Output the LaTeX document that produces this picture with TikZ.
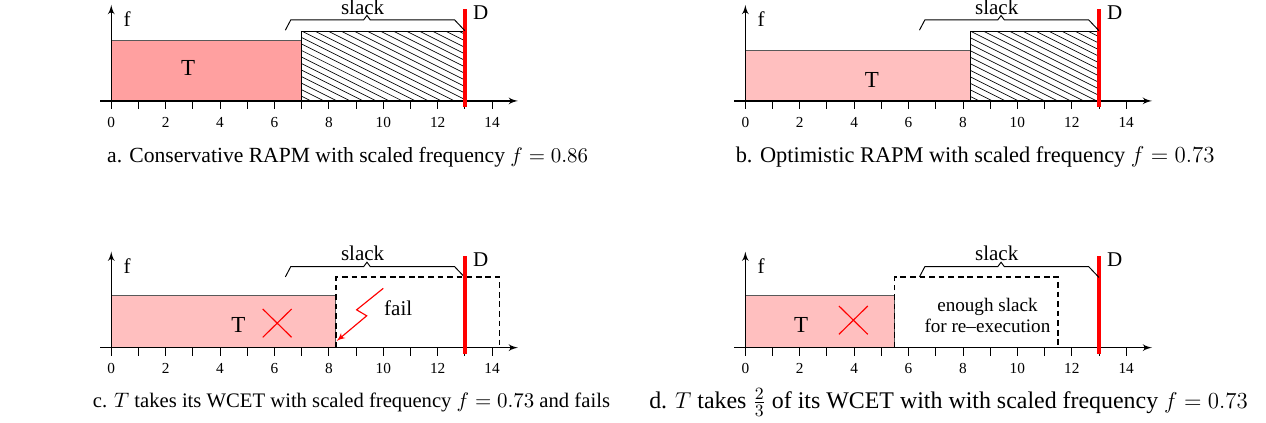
\documentclass[tikz,border=0pt]{standalone}
\usepackage{fontspec}
\setmainfont{Liberation Serif}
\usepackage{tikz}
\usetikzlibrary{arrows}
\usetikzlibrary{positioning}
\usetikzlibrary{shapes.misc}

\definecolor{taskdark}{RGB}{255,160,160}
\definecolor{tasklight}{RGB}{255,191,191}

\begin{document}
\begin{tikzpicture}[
		x=0.5cm,
		y=0.5cm,
		>=latex',
		axis/.style={->, line width=0.7pt},
		tick/.style={line width=0.5pt},
		main node/.style={font=\fontsize{12}{14}\selectfont},
		label node/.style={font=\fontsize{11}{13}\selectfont},
		tick node/.style={font=\fontsize{8}{9}\selectfont},
		note node/.style={font=\fontsize{10}{11}\selectfont, align=center},
		caption/.style={font=\fontsize{#1}{#1}\selectfont},
		task box/.style={draw=black!65, line width=0.5pt},
		hatch/.style={line width=0.35pt},
		slack box/.style={draw=black, dash pattern=on 3pt off 2pt, line width=0.8pt},
		deadline/.style={red, line width=2pt},
		brace/.style={line width=0.5pt},
		fail mark/.style={red, line width=0.6pt},
		cross/.style={cross out, draw=red, line width=0.6pt, inner sep=0pt, minimum width=0.51cm, minimum height=0.5cm}
		]
		
		\useasboundingbox (0,0) rectangle (46.54,-15.55);
		
		% a. conservative
		\begin{scope}[shift={(4.09,-3.71)}]
			\fill[taskdark] (0,0) rectangle (7,2.21);
			\draw[task box] (0,0) rectangle (7,2.21);
			\begin{scope}
				\clip (7,0) rectangle (13,2.57);
				\foreach \k in {-11,...,13}
				\draw[hatch] (7+\k*0.48,2.57) -- ++(5.14,-2.57);
			\end{scope}
			\draw[task box, draw=black] (7,0) rectangle (13,2.57);
			\node[main node] (aT) at (2.83,1.2) {T};
		\end{scope}
		
		% b. optimistic
		\begin{scope}[shift={(27.40,-3.71)}]
			\fill[tasklight] (0,0) rectangle (8.26,1.87);
			\draw[task box] (0,0) rectangle (8.26,1.87);
			\begin{scope}
				\clip (8.26,0) rectangle (13,2.57);
				\foreach \k in {-11,...,10}
				\draw[hatch] (8.26+\k*0.48,2.57) -- ++(5.14,-2.57);
			\end{scope}
			\draw[task box, draw=black] (8.26,0) rectangle (13,2.57);
			\node[main node] (bT) at (4.65,0.77) {T};
		\end{scope}
		
		% c. WCET and fails
		\begin{scope}[shift={(4.09,-12.78)}]
			\fill[tasklight] (0,0) rectangle (8.26,1.9);
			\draw[task box] (0,0) rectangle (8.26,1.9);
			\node[main node] (cT) at (4.67,0.83) {T};
			\node[cross] (cX) at (6.1,0.9) {};
			\node[label node] (cfail) at (10.55,1.46) {fail};
			\coordinate (cz1) at (10.0,2.18);
			\coordinate (cz2) at (9.02,1.39);
			\coordinate (cz3) at (9.39,1.17);
			\coordinate (cz4) at (8.28,0.24);
		\end{scope}
		
		% d. 2/3 of WCET
		\begin{scope}[shift={(27.40,-12.78)}]
			\fill[tasklight] (0,0) rectangle (5.48,1.9);
			\draw[task box] (0,0) rectangle (5.48,1.9);
			\node[main node] (dT) at (2.05,0.83) {T};
			\node[cross] (dX) at (3.97,1.01) {};
			\node[note node] (dnote) at (8.9,1.18) {enough slack\\for re\textendash execution};
		\end{scope}
		
		% axes, deadline and slack for every panel
		\foreach \p/\ox/\oy in {a/4.09/-3.71, b/27.40/-3.71, c/4.09/-12.78, d/27.40/-12.78}
		{
			\begin{scope}[shift={(\ox,\oy)}]
				\coordinate (\p o) at (0,0);
				\coordinate (\p xs) at (-0.4,0);
				\coordinate (\p xe) at (14.95,0);
				\coordinate (\p ye) at (0,3.53);
				\draw[axis] (\p xs) -- (\p xe);
				\draw[axis] (\p o) -- (\p ye);
				\foreach \t in {0,...,14}
				\draw[tick] (\t,0) -- (\t,-0.3);
				\foreach \t in {0,2,...,14}
				\node[tick node] (\p t\t) at (\t,-0.78) {\t};
				\node[label node] (\p f) at (0.58,3.0) {f};
				\coordinate (\p d1) at (13,-0.22);
				\coordinate (\p d2) at (13,3.38);
				\draw[deadline] (\p d1) -- (\p d2);
				\node[label node] (\p D) at (13.58,3.25) {D};
				\draw[brace] (6.4,2.6) -- (6.6,2.98) -- (9.28,2.98) -- (9.4,3.14)
				-- (9.52,2.98) -- (12.62,2.98) -- (13,2.58);
				\node[label node] (\p slack) at (9.24,3.45) {slack};
			\end{scope}
		}
		
		% dashed boxes for the re-execution
		\draw[slack box] (4.09+8.26,-12.78) rectangle (4.09+14.27,-12.78+2.59);
		\draw[slack box] (27.40+5.48,-12.78) rectangle (27.40+11.5,-12.78+2.59);
		\draw[deadline] (cd1) -- (cd2);
		\draw[fail mark, ->] (cz1) -- (cz2) -- (cz3) -- (cz4);
		
		% captions
		\node[caption=11.3] (capa) at (12.78,-5.77) {a. Conservative RAPM with scaled frequency $f=0.86$};
		\node[caption=11.7] (capb) at (35.85,-5.77) {b. Optimistic RAPM with scaled frequency $f=0.73$};
		\node[caption=10.8] (capc) at (12.92,-14.78) {c. $T$ takes its WCET with scaled frequency $f=0.73$ and fails};
		\node[caption=12.5] (capd) at (34.87,-14.78) {d. $T$ takes $\frac{2}{3}$ of its WCET with with scaled frequency $f=0.73$};
	\end{tikzpicture}
\end{document}
